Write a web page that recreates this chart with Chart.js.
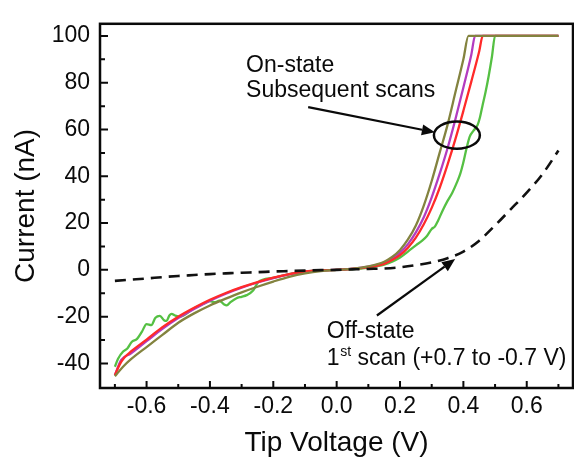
<!DOCTYPE html>
<html>
<head>
<meta charset="utf-8">
<script src="https://cdn.jsdelivr.net/npm/chart.js@4.4.1/dist/chart.umd.min.js"></script>
<style>
  html, body { margin: 0; padding: 0; background: #fff; }
  #wrap { width: 574px; height: 460px; }
</style>
</head>
<body>
<div id="wrap"><canvas id="c" width="574" height="460"></canvas></div>
<script>
// ---- Data ----
const offV = [-0.70,-0.65,-0.60,-0.55,-0.50,-0.45,-0.40,-0.35,-0.30,-0.25,-0.20,-0.15,-0.10,-0.05,0.00,0.05,0.10,0.15,0.20,0.25,0.30,0.35,0.40,0.45,0.50,0.55,0.60,0.65,0.70];
const offI = [-4.7,-4.2,-3.7,-3.1,-2.6,-2.2,-1.8,-1.5,-1.2,-1.0,-0.7,-0.5,-0.3,-0.1,0.0,0.2,0.4,0.6,1.1,2.0,3.2,5.0,7.8,12.5,19,26,33,41,51];

const oliveV = [-0.70,-0.675,-0.65,-0.60,-0.55,-0.50,-0.45,-0.40,-0.35,-0.30,-0.25,-0.20,-0.15,-0.10,-0.05,0.00,0.05,0.10,0.15,0.175,0.20,0.225,0.25,0.275,0.30,0.325,0.35,0.375,0.40,0.416,0.70];
const oliveI = [-45.5,-41.5,-38.3,-33.0,-27.8,-22.6,-18.6,-15.2,-12.3,-9.6,-7.2,-5.0,-3.0,-1.5,-0.5,0,0.5,1.5,3.5,5.5,8.5,13,19,27.5,38,50,62,76,90,100,100];

const purpleV = [-0.70,-0.68,-0.65,-0.60,-0.55,-0.50,-0.45,-0.40,-0.35,-0.30,-0.25,-0.20,-0.15,-0.10,-0.05,0.00,0.05,0.10,0.15,0.175,0.20,0.225,0.25,0.275,0.30,0.325,0.35,0.375,0.40,0.425,0.437,0.70];
const purpleI = [-45,-38.5,-35.8,-30.5,-25.2,-20.6,-16.7,-13.2,-10.2,-7.6,-5.4,-3.5,-1.9,-0.8,-0.2,0,0.5,1.4,3.0,4.8,7.3,11,16,22.5,31,41,52,64.5,78,92,100,100];

const redV = [-0.70,-0.685,-0.67,-0.65,-0.60,-0.55,-0.50,-0.45,-0.40,-0.35,-0.30,-0.25,-0.20,-0.15,-0.10,-0.05,0.00,0.05,0.10,0.15,0.175,0.20,0.225,0.25,0.275,0.30,0.325,0.35,0.375,0.40,0.425,0.45,0.461,0.70];
const redI = [-45,-40.5,-37.5,-35.0,-29.8,-24.5,-20.0,-16.2,-12.8,-9.9,-7.4,-5.2,-3.3,-1.8,-0.7,-0.2,0,0.4,1.2,2.6,4.2,6.3,9.5,13.8,19.5,26.5,35,45,56,68,80.5,93.5,100,100];

const greenV = [-0.70,-0.69,-0.674,-0.66,-0.647,-0.63,-0.615,-0.60,-0.585,-0.572,-0.558,-0.545,-0.537,-0.528,-0.521,-0.51,-0.495,-0.45,-0.42,-0.40,-0.385,-0.37,-0.355,-0.347,-0.335,-0.316,-0.30,-0.284,-0.263,-0.248,-0.20,-0.15,-0.10,0.00,0.05,0.10,0.15,0.175,0.20,0.225,0.25,0.27,0.285,0.30,0.31,0.32,0.335,0.35,0.365,0.38,0.39,0.40,0.41,0.42,0.432,0.445,0.452,0.46,0.47,0.48,0.49,0.50,0.70];
const greenI = [-41.4,-38,-34.9,-33.5,-30.8,-29.5,-26.5,-23.2,-23.6,-20.5,-19.7,-21.5,-21.8,-19.5,-18.8,-19.5,-20.0,-16.4,-14.5,-13.3,-13.8,-13.2,-14.8,-15.2,-13.8,-12.1,-11.5,-10.8,-8.7,-5.3,-3.4,-1.8,-0.7,0,0.3,1.0,2.2,3.5,5.3,7.8,10.5,12.5,14.5,17.5,18.5,21,25.5,29.5,33,37.5,41,46,52,57,59.5,62,65,70,76,83,91,100,100];

const xMajorTicks = [-0.6,-0.4,-0.2,0.0,0.2,0.4,0.6];
const xMinorTicks = [-0.7,-0.5,-0.3,-0.1,0.1,0.3,0.5,0.7];
const yMajorTicks = [-40,-20,0,20,40,60,80,100];
const yMinorTicks = [-30,-10,10,30,50,70,90];

const xTitle = 'Tip Voltage (V)';
const yTitle = 'Current (nA)';

function pts(xs, ys) { return xs.map((x, i) => ({ x: x, y: ys[i] })); }

const FONT = "'Liberation Sans', Arial, Helvetica, sans-serif";
const INK = '#0a0a0a';

const decorPlugin = {
  id: 'decor',
  afterDatasetsDraw(chart) {
    const ctx = chart.ctx;
    const xs = chart.scales.x, ys = chart.scales.y;
    const a = chart.chartArea;
    const X = v => xs.getPixelForValue(v);
    const Y = v => ys.getPixelForValue(v);
    ctx.save();
    // frame
    ctx.strokeStyle = INK;
    ctx.lineWidth = 2.5;
    ctx.strokeRect(a.left, a.top, a.right - a.left, a.bottom - a.top);
    // inward ticks
    ctx.lineWidth = 2;
    ctx.beginPath();
    xMajorTicks.forEach(v => { ctx.moveTo(X(v), a.bottom); ctx.lineTo(X(v), a.bottom - 7); });
    xMinorTicks.forEach(v => { ctx.moveTo(X(v), a.bottom); ctx.lineTo(X(v), a.bottom - 4); });
    yMajorTicks.forEach(v => { ctx.moveTo(a.left, Y(v)); ctx.lineTo(a.left + 8, Y(v)); });
    yMinorTicks.forEach(v => { ctx.moveTo(a.left, Y(v)); ctx.lineTo(a.left + 5, Y(v)); });
    ctx.stroke();

    // ellipse
    ctx.lineWidth = 2.5;
    const ex0 = X(0.307), ex1 = X(0.452), ey0 = Y(63.4), ey1 = Y(51.8);
    ctx.beginPath();
    ctx.ellipse((ex0 + ex1) / 2, (ey0 + ey1) / 2, (ex1 - ex0) / 2, (ey1 - ey0) / 2, 0, 0, Math.PI * 2);
    ctx.stroke();

    // arrows
    function arrow(x0, y0, x1, y1) {
      const ang = Math.atan2(y1 - y0, x1 - x0);
      const L = 13, W = 5.5;
      const bx = x1 - L * Math.cos(ang), by = y1 - L * Math.sin(ang);
      ctx.lineWidth = 2.2;
      ctx.beginPath(); ctx.moveTo(x0, y0); ctx.lineTo(bx, by); ctx.stroke();
      ctx.beginPath();
      ctx.moveTo(x1, y1);
      ctx.lineTo(bx + W * Math.sin(ang), by - W * Math.cos(ang));
      ctx.lineTo(bx - W * Math.sin(ang), by + W * Math.cos(ang));
      ctx.closePath();
      ctx.fillStyle = INK; ctx.fill();
    }
    arrow(X(-0.090), Y(69.6), X(0.310), Y(58.8));
    arrow(X(0.127), Y(-19.5), X(0.374), Y(4.6));

    // annotation text
    ctx.fillStyle = INK;
    ctx.textBaseline = 'alphabetic';
    ctx.textAlign = 'left';
    ctx.font = '23px ' + FONT;
    ctx.fillText('On-state', X(-0.286), Y(84.6));
    ctx.fillText('Subsequent scans', X(-0.286), Y(73.8));
    ctx.fillText('Off-state', X(-0.031), Y(-29.0));
    let tx = X(-0.031), ty = Y(-40.6);
    ctx.fillText('1', tx, ty);
    tx += ctx.measureText('1').width;
    ctx.font = '14px ' + FONT;
    ctx.fillText('st', tx + 0.5, ty - 9);
    tx += ctx.measureText('st').width + 0.5;
    ctx.font = '23px ' + FONT;
    ctx.fillText(' scan (+0.7 to -0.7 V)', tx, ty);
    ctx.restore();
  }
};

const lineDS = (label, xs, ys, color, order) => ({
  label: label,
  data: pts(xs, ys),
  showLine: true,
  borderColor: color,
  backgroundColor: color,
  borderWidth: 2.3,
  pointRadius: 0,
  tension: 0.3,
  cubicInterpolationMode: 'monotone',
  order: order
});

new Chart(document.getElementById('c'), {
  type: 'scatter',
  data: {
    datasets: [
      Object.assign(lineDS('Off-state 1st scan', offV, offI, '#111111', 0), { borderDash: [11, 7], borderWidth: 2.6 }),
      lineDS('On-state scan A', oliveV, oliveI, '#83833f', 1),
      lineDS('On-state scan B', redV, redI, '#ff2a2a', 2),
      lineDS('On-state scan C', purpleV, purpleI, '#b33cc0', 3),
      lineDS('On-state scan D', greenV, greenI, '#55c043', 4)
    ]
  },
  options: {
    responsive: false,
    animation: false,
    devicePixelRatio: 1,
    layout: { padding: { top: 12, right: 1, left: 0, bottom: 0 } },
    plugins: { legend: { display: false }, tooltip: { enabled: false } },
    scales: {
      x: {
        type: 'linear',
        min: -0.747, max: 0.746,
        grid: { display: false, drawTicks: false },
        border: { display: false },
        afterBuildTicks: s => { s.ticks = xMajorTicks.map(v => ({ value: v })); },
        afterFit: s => { s.height = 72; },
        ticks: {
          autoSkip: false, maxRotation: 0, padding: 5,
          color: INK, font: { family: FONT, size: 23 },
          callback: v => Number(v).toFixed(1)
        },
        title: { display: true, text: xTitle, color: INK, font: { family: FONT, size: 28 }, padding: { top: 0, bottom: 0 } }
      },
      y: {
        type: 'linear',
        min: -50.5, max: 105.2,
        grid: { display: false, drawTicks: false },
        border: { display: false },
        afterBuildTicks: s => { s.ticks = yMajorTicks.map(v => ({ value: v })); },
        afterFit: s => { s.width = 100; },
        ticks: {
          autoSkip: false, padding: 10,
          color: INK, font: { family: FONT, size: 23 },
          callback: v => String(Math.round(v))
        },
        title: { display: true, text: yTitle, color: INK, font: { family: FONT, size: 28 }, padding: { top: 9, bottom: 0 } }
      }
    }
  },
  plugins: [decorPlugin]
});
</script>
</body>
</html>
